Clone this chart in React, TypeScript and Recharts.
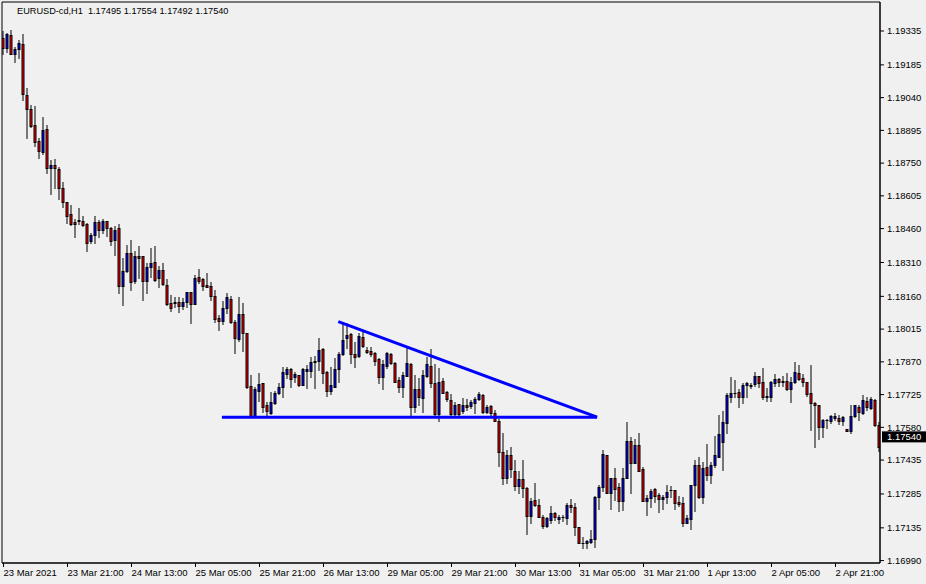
import React from 'react';
import { ComposedChart, Bar, XAxis, YAxis, ReferenceLine, ReferenceArea } from 'recharts';

// hourly bars, one every 4px in the original terminal window
const HEADER = 'EURUSD-cd,H1  1.17495 1.17554 1.17492 1.17540';
const LAST_PRICE = 1.1754;

const TICK_BARS = [0, 16, 32, 48, 64, 80, 96, 112, 128, 144, 160, 176, 192, 208];
const TIME_LABELS = [
  '23 Mar 2021', '23 Mar 21:00', '24 Mar 13:00', '25 Mar 05:00', '25 Mar 21:00',
  '26 Mar 13:00', '29 Mar 05:00', '29 Mar 21:00', '30 Mar 13:00', '31 Mar 05:00',
  '31 Mar 21:00', '1 Apr 13:00', '2 Apr 05:00', '2 Apr 21:00',
];

const PRICE_TICKS = [
  1.19335, 1.19185, 1.1904, 1.18895, 1.1875, 1.18605, 1.1846, 1.1831, 1.1816,
  1.18015, 1.1787, 1.17725, 1.1758, 1.17435, 1.17285, 1.17135, 1.1699,
];

// [open, high, low, close]
const OHLC: number[][] = [
  [1.19303, 1.19335, 1.19232, 1.19258], [1.19258, 1.19326, 1.19243, 1.19320], [1.19317, 1.19340, 1.19232, 1.19235],
  [1.19232, 1.19264, 1.19199, 1.19254], [1.19254, 1.19295, 1.19217, 1.19281], [1.19276, 1.19320, 1.19031, 1.19055],
  [1.19052, 1.19083, 1.18863, 1.18988], [1.18988, 1.19007, 1.18911, 1.18916], [1.18919, 1.19003, 1.18827, 1.18845],
  [1.18848, 1.18860, 1.18774, 1.18805], [1.18801, 1.18953, 1.18789, 1.18895], [1.18900, 1.18919, 1.18708, 1.18730],
  [1.18727, 1.18764, 1.18615, 1.18740], [1.18740, 1.18767, 1.18639, 1.18727], [1.18724, 1.18732, 1.18590, 1.18639],
  [1.18639, 1.18665, 1.18557, 1.18577], [1.18577, 1.18577, 1.18486, 1.18517], [1.18523, 1.18563, 1.18476, 1.18482],
  [1.18488, 1.18503, 1.18424, 1.18482], [1.18495, 1.18551, 1.18480, 1.18498], [1.18492, 1.18517, 1.18473, 1.18477],
  [1.18480, 1.18484, 1.18361, 1.18398], [1.18407, 1.18439, 1.18395, 1.18432], [1.18432, 1.18516, 1.18396, 1.18489],
  [1.18489, 1.18498, 1.18424, 1.18455], [1.18455, 1.18503, 1.18441, 1.18492], [1.18492, 1.18492, 1.18429, 1.18463],
  [1.18463, 1.18469, 1.18387, 1.18407], [1.18410, 1.18472, 1.18343, 1.18454], [1.18463, 1.18480, 1.18175, 1.18207],
  [1.18207, 1.18329, 1.18122, 1.18272], [1.18274, 1.18387, 1.18268, 1.18351], [1.18351, 1.18410, 1.18188, 1.18225],
  [1.18229, 1.18362, 1.18221, 1.18339], [1.18339, 1.18383, 1.18240, 1.18331], [1.18339, 1.18339, 1.18144, 1.18229],
  [1.18229, 1.18306, 1.18174, 1.18289], [1.18291, 1.18374, 1.18247, 1.18306], [1.18311, 1.18383, 1.18229, 1.18233],
  [1.18240, 1.18295, 1.18200, 1.18277], [1.18277, 1.18306, 1.18210, 1.18213], [1.18210, 1.18236, 1.18122, 1.18125],
  [1.18129, 1.18166, 1.18097, 1.18107], [1.18129, 1.18156, 1.18112, 1.18136], [1.18134, 1.18156, 1.18092, 1.18119],
  [1.18119, 1.18151, 1.18103, 1.18136], [1.18136, 1.18181, 1.18114, 1.18178], [1.18178, 1.18181, 1.18043, 1.18125],
  [1.18125, 1.18255, 1.18125, 1.18240], [1.18244, 1.18281, 1.18218, 1.18229], [1.18236, 1.18243, 1.18188, 1.18207],
  [1.18210, 1.18265, 1.18200, 1.18200], [1.18206, 1.18222, 1.18144, 1.18163], [1.18162, 1.18188, 1.18048, 1.18061],
  [1.18063, 1.18078, 1.18011, 1.18052], [1.18052, 1.18141, 1.18038, 1.18107], [1.18109, 1.18175, 1.18085, 1.18157],
  [1.18148, 1.18162, 1.18042, 1.18048], [1.18048, 1.18055, 1.17911, 1.17974], [1.17970, 1.18157, 1.17962, 1.18082],
  [1.18082, 1.18129, 1.17919, 1.17996], [1.17996, 1.17996, 1.17753, 1.17760], [1.17763, 1.17812, 1.17627, 1.17630],
  [1.17627, 1.17757, 1.17627, 1.17749], [1.17742, 1.17819, 1.17698, 1.17772], [1.17775, 1.17775, 1.17649, 1.17671],
  [1.17679, 1.17694, 1.17635, 1.17654], [1.17642, 1.17738, 1.17639, 1.17694], [1.17687, 1.17742, 1.17683, 1.17733],
  [1.17731, 1.17775, 1.17728, 1.17757], [1.17760, 1.17849, 1.17716, 1.17825], [1.17816, 1.17849, 1.17797, 1.17837],
  [1.17837, 1.17842, 1.17760, 1.17795], [1.17802, 1.17826, 1.17782, 1.17816], [1.17811, 1.17812, 1.17763, 1.17766],
  [1.17766, 1.17842, 1.17766, 1.17837], [1.17831, 1.17856, 1.17753, 1.17840], [1.17831, 1.17890, 1.17802, 1.17869],
  [1.17868, 1.17896, 1.17753, 1.17875], [1.17875, 1.17974, 1.17834, 1.17923], [1.17926, 1.17930, 1.17775, 1.17822],
  [1.17826, 1.17831, 1.17720, 1.17742], [1.17742, 1.17849, 1.17728, 1.17768], [1.17760, 1.17886, 1.17757, 1.17837],
  [1.17837, 1.17915, 1.17782, 1.17905], [1.17905, 1.18041, 1.17900, 1.17967], [1.17974, 1.18041, 1.17930, 1.17989],
  [1.17993, 1.17999, 1.17866, 1.17905], [1.17905, 1.17959, 1.17846, 1.17893], [1.17897, 1.17996, 1.17893, 1.17985],
  [1.17979, 1.18008, 1.17937, 1.17942], [1.17923, 1.17934, 1.17908, 1.17912], [1.17918, 1.17934, 1.17896, 1.17905],
  [1.17911, 1.17915, 1.17856, 1.17875], [1.17881, 1.17886, 1.17775, 1.17804], [1.17804, 1.17878, 1.17750, 1.17861],
  [1.17853, 1.17915, 1.17842, 1.17911], [1.17905, 1.17908, 1.17861, 1.17864], [1.17866, 1.17871, 1.17782, 1.17782],
  [1.17790, 1.17804, 1.17738, 1.17760], [1.17757, 1.17824, 1.17713, 1.17812], [1.17809, 1.17940, 1.17807, 1.17864],
  [1.17861, 1.17864, 1.17625, 1.17669], [1.17669, 1.17812, 1.17649, 1.17749], [1.17749, 1.17797, 1.17679, 1.17713],
  [1.17709, 1.17834, 1.17649, 1.17812], [1.17807, 1.17893, 1.17804, 1.17861], [1.17852, 1.17926, 1.17760, 1.17775],
  [1.17775, 1.17861, 1.17635, 1.17639], [1.17639, 1.17842, 1.17609, 1.17782], [1.17787, 1.17797, 1.17731, 1.17733],
  [1.17738, 1.17742, 1.17698, 1.17704], [1.17701, 1.17728, 1.17632, 1.17638], [1.17638, 1.17694, 1.17627, 1.17679],
  [1.17682, 1.17683, 1.17630, 1.17639], [1.17654, 1.17709, 1.17642, 1.17679], [1.17679, 1.17704, 1.17657, 1.17671],
  [1.17675, 1.17701, 1.17664, 1.17691], [1.17687, 1.17713, 1.17645, 1.17706], [1.17706, 1.17738, 1.17701, 1.17728],
  [1.17723, 1.17726, 1.17642, 1.17649], [1.17649, 1.17679, 1.17642, 1.17669], [1.17675, 1.17679, 1.17625, 1.17642],
  [1.17642, 1.17657, 1.17609, 1.17609], [1.17609, 1.17616, 1.17409, 1.17472], [1.17472, 1.17554, 1.17329, 1.17354],
  [1.17354, 1.17480, 1.17332, 1.17458], [1.17458, 1.17494, 1.17359, 1.17394], [1.17388, 1.17435, 1.17303, 1.17320],
  [1.17320, 1.17388, 1.17288, 1.17351], [1.17351, 1.17435, 1.17273, 1.17310], [1.17310, 1.17317, 1.17108, 1.17189],
  [1.17189, 1.17266, 1.17158, 1.17255], [1.17258, 1.17335, 1.17232, 1.17236], [1.17236, 1.17261, 1.17184, 1.17184],
  [1.17184, 1.17192, 1.17136, 1.17145], [1.17145, 1.17182, 1.17140, 1.17177], [1.17170, 1.17232, 1.17158, 1.17199],
  [1.17199, 1.17207, 1.17170, 1.17182], [1.17173, 1.17192, 1.17155, 1.17184], [1.17182, 1.17192, 1.17165, 1.17183],
  [1.17177, 1.17244, 1.17151, 1.17236], [1.17236, 1.17261, 1.17207, 1.17226], [1.17226, 1.17244, 1.17103, 1.17137],
  [1.17137, 1.17140, 1.17069, 1.17069], [1.17069, 1.17093, 1.17044, 1.17069], [1.17069, 1.17081, 1.17044, 1.17077],
  [1.17074, 1.17126, 1.17067, 1.17084], [1.17084, 1.17276, 1.17049, 1.17270], [1.17273, 1.17325, 1.17217, 1.17315],
  [1.17315, 1.17480, 1.17300, 1.17462], [1.17456, 1.17456, 1.17288, 1.17291], [1.17291, 1.17354, 1.17217, 1.17354],
  [1.17354, 1.17399, 1.17258, 1.17307], [1.17315, 1.17332, 1.17211, 1.17255], [1.17255, 1.17399, 1.17214, 1.17354],
  [1.17354, 1.17604, 1.17354, 1.17520], [1.17520, 1.17539, 1.17288, 1.17424], [1.17424, 1.17527, 1.17424, 1.17502],
  [1.17502, 1.17554, 1.17388, 1.17388], [1.17396, 1.17403, 1.17255, 1.17255], [1.17255, 1.17280, 1.17192, 1.17266],
  [1.17266, 1.17306, 1.17229, 1.17300], [1.17306, 1.17310, 1.17251, 1.17276], [1.17280, 1.17288, 1.17207, 1.17261],
  [1.17261, 1.17280, 1.17217, 1.17273], [1.17270, 1.17325, 1.17246, 1.17295], [1.17303, 1.17320, 1.17273, 1.17303],
  [1.17303, 1.17303, 1.17217, 1.17244], [1.17248, 1.17276, 1.17232, 1.17241], [1.17244, 1.17273, 1.17145, 1.17155],
  [1.17155, 1.17192, 1.17155, 1.17177], [1.17173, 1.17325, 1.17129, 1.17325], [1.17325, 1.17435, 1.17211, 1.17413],
  [1.17413, 1.17447, 1.17266, 1.17273], [1.17273, 1.17428, 1.17244, 1.17399], [1.17403, 1.17506, 1.17347, 1.17369],
  [1.17369, 1.17428, 1.17332, 1.17413], [1.17413, 1.17542, 1.17403, 1.17458], [1.17450, 1.17635, 1.17450, 1.17551],
  [1.17514, 1.17654, 1.17391, 1.17605], [1.17598, 1.17731, 1.17556, 1.17723], [1.17716, 1.17802, 1.17694, 1.17733],
  [1.17731, 1.17790, 1.17713, 1.17731], [1.17737, 1.17749, 1.17669, 1.17713], [1.17713, 1.17778, 1.17689, 1.17768],
  [1.17766, 1.17780, 1.17716, 1.17776], [1.17763, 1.17778, 1.17753, 1.17768], [1.17771, 1.17826, 1.17763, 1.17807],
  [1.17807, 1.17807, 1.17760, 1.17775], [1.17780, 1.17842, 1.17704, 1.17713], [1.17719, 1.17753, 1.17698, 1.17713],
  [1.17716, 1.17786, 1.17698, 1.17782], [1.17778, 1.17816, 1.17763, 1.17794], [1.17793, 1.17797, 1.17763, 1.17782],
  [1.17780, 1.17807, 1.17763, 1.17786], [1.17786, 1.17819, 1.17745, 1.17750], [1.17750, 1.17804, 1.17694, 1.17780],
  [1.17780, 1.17868, 1.17775, 1.17824], [1.17819, 1.17856, 1.17790, 1.17793], [1.17797, 1.17816, 1.17763, 1.17780],
  [1.17780, 1.17782, 1.17719, 1.17728], [1.17733, 1.17856, 1.17568, 1.17689], [1.17689, 1.17694, 1.17492, 1.17679],
  [1.17679, 1.17679, 1.17527, 1.17580], [1.17580, 1.17617, 1.17539, 1.17613], [1.17613, 1.17617, 1.17578, 1.17613],
  [1.17609, 1.17635, 1.17598, 1.17630], [1.17623, 1.17642, 1.17613, 1.17630], [1.17620, 1.17635, 1.17595, 1.17609],
  [1.17609, 1.17630, 1.17590, 1.17625], [1.17573, 1.17573, 1.17565, 1.17565], [1.17565, 1.17679, 1.17556, 1.17630],
  [1.17630, 1.17679, 1.17627, 1.17679], [1.17669, 1.17679, 1.17613, 1.17649], [1.17645, 1.17723, 1.17639, 1.17701],
  [1.17698, 1.17713, 1.17657, 1.17669], [1.17664, 1.17713, 1.17660, 1.17704], [1.17701, 1.17704, 1.17586, 1.17590],
  [1.17590, 1.17605, 1.17477, 1.17494],
];

// hand drawn trend lines (bar index, price)
const SUPPORT_LINE = [{ x: 54.6, y: 1.17625 }, { x: 148.4, y: 1.17625 }];
const RESISTANCE_LINE = [{ x: 83.7, y: 1.18048 }, { x: 148.4, y: 1.17625 }];

const PRICE_MIN = 1.169793;
const PRICE_MAX = 1.194634;
const BAR_MIN = -0.375;
const BAR_MAX = 219.125;

const FONT = '"Liberation Sans", Arial, sans-serif';
const BULL = '#0000FF';
const BEAR = '#FF0000';

const data = OHLC.map(([o, h, l, c], i) => ({ i, o, h, l, c, range: [l, h] }));

const Candle = (props: any) => {
  const { x, y, width, height, payload } = props;
  const { o, h, l, c } = payload;
  const cx = x + width / 2;
  const span = h - l || 1e-9;
  const yOf = (p: number) => y + ((h - p) / span) * height;
  const top = Math.round(yOf(Math.max(o, c)));
  const bottom = Math.round(yOf(Math.min(o, c)));
  const bh = bottom - top;
  const color = c >= o ? BULL : BEAR;
  return (
    <g>
      <line x1={cx} x2={cx} y1={Math.round(y)} y2={Math.round(y + height) + 1} stroke="#000" strokeWidth={1} />
      {bh < 1 ? (
        <rect x={cx - 1.5} y={top} width={3} height={1} fill="#000" />
      ) : (
        <>
          <rect x={cx - 1.5} y={top} width={3} height={bh + 1} fill="#000" />
          {bh > 1 && <rect x={cx - 0.5} y={top + 1} width={1} height={bh - 1} fill={color} />}
        </>
      )}
    </g>
  );
};

const TimeTick = ({ x, y, payload }: any) => {
  const k = TICK_BARS.indexOf(payload.value);
  return (
    <text x={x} y={y} dy="0.71em" textAnchor="start" fontSize={9.5} fontFamily={FONT} fill="#000">
      {TIME_LABELS[k]}
    </text>
  );
};

const PriceTag = ({ viewBox }: any) => {
  const right = viewBox.x + viewBox.width;
  return (
    <g>
      <rect x={right + 2} y={viewBox.y - 5} width={44} height={11} fill="#000" />
      <text x={right + 7} y={viewBox.y + 0.5} dy="0.35em" fontSize={9.5} fontFamily={FONT} fill="#fff">
        {LAST_PRICE.toFixed(5)}
      </text>
    </g>
  );
};

export default function App() {
  return (
    <div style={{ position: 'fixed', left: 0, top: 0, width: 926, height: 584, background: '#F0F0F0' }}>
      <ComposedChart width={926} height={584} data={data} margin={{ top: 2, left: 2, right: 0, bottom: 0 }}>
        <XAxis
          dataKey="i"
          type="number"
          domain={[BAR_MIN, BAR_MAX]}
          allowDataOverflow
          ticks={TICK_BARS}
          interval={0}
          height={21}
          tickSize={4}
          tickMargin={2}
          axisLine={{ stroke: '#000' }}
          tickLine={{ stroke: '#000' }}
          tick={<TimeTick />}
        />
        <YAxis
          orientation="right"
          type="number"
          domain={[PRICE_MIN, PRICE_MAX]}
          allowDataOverflow
          ticks={PRICE_TICKS}
          interval={0}
          width={46}
          tickSize={4}
          tickMargin={3}
          axisLine={{ stroke: '#000' }}
          tickLine={{ stroke: '#000' }}
          tick={{ fill: '#000', fontSize: 9.5, fontFamily: FONT }}
          tickFormatter={(v: number) => v.toFixed(5)}
        />
        <ReferenceArea x1={BAR_MIN} x2={BAR_MAX} y1={PRICE_MIN} y2={PRICE_MAX} fill="none" stroke="#000" strokeWidth={1} />
        <Bar dataKey="range" barSize={3} shape={<Candle />} isAnimationActive={false} />
        <ReferenceLine segment={SUPPORT_LINE} stroke="#0000FF" strokeWidth={3} />
        <ReferenceLine segment={RESISTANCE_LINE} stroke="#0000FF" strokeWidth={3} />
        <ReferenceLine y={LAST_PRICE} stroke="none" label={<PriceTag />} />
      </ComposedChart>
      <div
        style={{
          position: 'absolute', left: 17, top: 5, fontFamily: FONT, fontSize: 9.2,
          color: '#000', whiteSpace: 'pre', lineHeight: '12px',
        }}
      >
        {HEADER}
      </div>
    </div>
  );
}
